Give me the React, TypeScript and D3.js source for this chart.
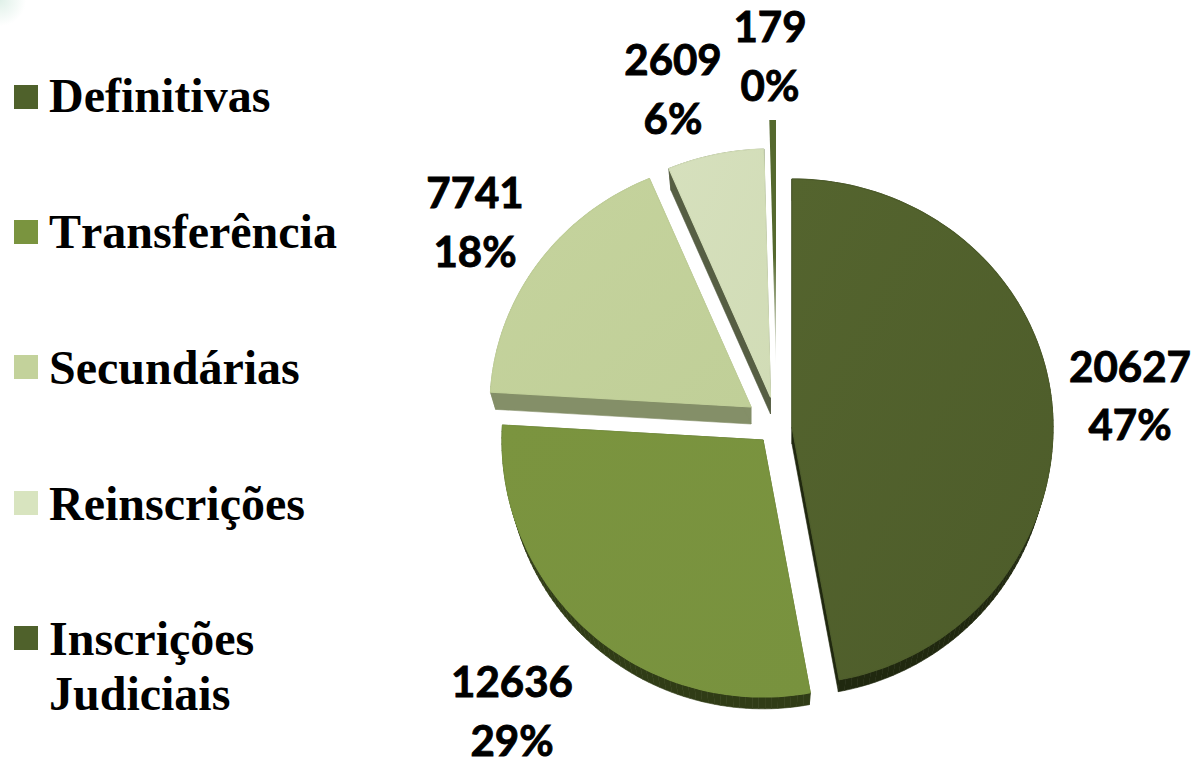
import React from "react";
import * as d3 from "d3";

const categories = ["Definitivas", "Transferência", "Secundárias", "Reinscrições", "Inscrições Judiciais"];
const values = [20627, 12636, 7741, 2609, 179];
const legendLines = [["Definitivas"], ["Transferência"], ["Secundárias"], ["Reinscrições"], ["Inscrições", "Judiciais"]];
const faceColors = [
  ["#54642e", "#4d5c2a"],
  ["#7b943f", "#78923e"],
  ["#c5d39d", "#c0cf98"],
  ["#d6e0bd", "#d1dcb6"],
  ["#55692e", "#ffffff"],
];
const legendColors = ["#4f612b", "#7a943f", "#c3d29b", "#d8e4bf", "#4f612b"];
const wallColors = ["#20280f", "#303c16", "#848f68", "#565e43", "none"];

// layout (pixels)
const W = 1195;
const H = 759;
const RX = 261;
const RY_UP = 248;
const RY_DOWN = 257;
const apexes: [number, number][] = [[792, 427], [763, 440], [751, 407], [770.5, 397], [776, 368]];
const DEPTH_SHIFT = 17;
const DEPTH_SCALE = 0.98;
const legendSquareY = [85, 220, 355, 491, 626];
const legendBaselineY = [112, 248, 384, 520, 655];
const legendLineGap = 55;
const labelPos: [number, number][] = [[1130, 382], [512, 697], [475, 208], [673, 75], [770, 42]];
const labelGap = 59;

const pieGen = d3.pie<number>().value((d) => d).sort(null);
const arcs = pieGen(values);
const total = d3.sum(values);
const pct = d3.format(".0%");
const line = d3.line<[number, number]>();

function project(i: number, angle: number, r: number): [number, number] {
  const [ax, ay] = apexes[i];
  const c = Math.cos(angle);
  return [ax + r * RX * Math.sin(angle), ay - r * c * (c > 0 ? RY_UP : RY_DOWN)];
}
function lower(i: number, p: [number, number]): [number, number] {
  const [ax, ay] = apexes[i];
  return [ax + (p[0] - ax) * DEPTH_SCALE, ay + DEPTH_SHIFT + (p[1] - ay) * DEPTH_SCALE];
}
function outline(i: number): [number, number][] {
  const a = arcs[i];
  const n = Math.max(4, Math.ceil((a.endAngle - a.startAngle) * 40));
  const scale = d3.scaleLinear().domain([0, n]).range([a.startAngle, a.endAngle]);
  return [apexes[i], ...d3.range(n + 1).map((k) => project(i, scale(k), 1))];
}

export default function App() {
  return (
    <svg
      width={W}
      height={H}
      viewBox={`0 0 ${W} ${H}`}
      style={{ position: "absolute", left: 0, top: 0, display: "block", background: "#fff" }}
    >
      <defs>
        {faceColors.map((c, i) => (
          <linearGradient key={i} id={`face${i}`} x1="0" y1="0" x2={i === 4 ? "0" : "1"} y2="1">
            <stop offset={i === 4 ? "0.55" : "0"} stopColor={c[0]} />
            <stop offset="1" stopColor={c[1]} />
          </linearGradient>
        ))}
        <radialGradient id="corner" gradientUnits="userSpaceOnUse" cx="0" cy="0" r="26">
          <stop offset="0" stopColor="#dff0e8" />
          <stop offset="1" stopColor="#ffffff" />
        </radialGradient>
      </defs>
      <rect x="0" y="0" width="26" height="26" fill="url(#corner)" />

      {arcs.map((_, i) => {
        const pts = outline(i);
        const closed = [...pts, pts[0]];
        return (
          <g key={categories[i]}>
            {wallColors[i] !== "none" &&
              d3.pairs(closed).map(([p, q], k) => (
                <path
                  key={k}
                  d={line([p, q, lower(i, q), lower(i, p)]) + "Z"}
                  fill={wallColors[i]}
                  stroke={wallColors[i]}
                  strokeWidth={0.6}
                  strokeLinejoin="round"
                />
              ))}
            <path
              d={line(pts) + "Z"}
              fill={`url(#face${i})`}
              stroke={i === 4 ? "none" : faceColors[i][1]}
              strokeWidth={1.2}
              strokeLinejoin="round"
            />
          </g>
        );
      })}

      {values.map((v, i) => (
        <text
          key={i}
          textAnchor="middle"
          fontFamily="Lato, sans-serif"
          fontWeight={700}
          fontSize={42}
          fill="#000"
          stroke="#000"
          strokeWidth={0.9}
        >
          <tspan x={labelPos[i][0]} y={labelPos[i][1]}>{v}</tspan>
          <tspan x={labelPos[i][0]} y={labelPos[i][1] + labelGap - (i === 0 ? 1 : 0)}>{pct(v / total)}</tspan>
        </text>
      ))}

      {categories.map((c, i) => (
        <g key={c}>
          <rect x={14} y={legendSquareY[i]} width={24} height={24} fill={legendColors[i]} />
          <text
            fontFamily="'Liberation Serif', serif"
            fontWeight={700}
            fontSize={48}
            fill="#000"
            style={{ fontKerning: "none", fontVariantLigatures: "none" }}
          >
            {legendLines[i].map((t, k) => (
              <tspan key={k} x={49} y={legendBaselineY[i] + k * legendLineGap}>{t}</tspan>
            ))}
          </text>
        </g>
      ))}
    </svg>
  );
}
